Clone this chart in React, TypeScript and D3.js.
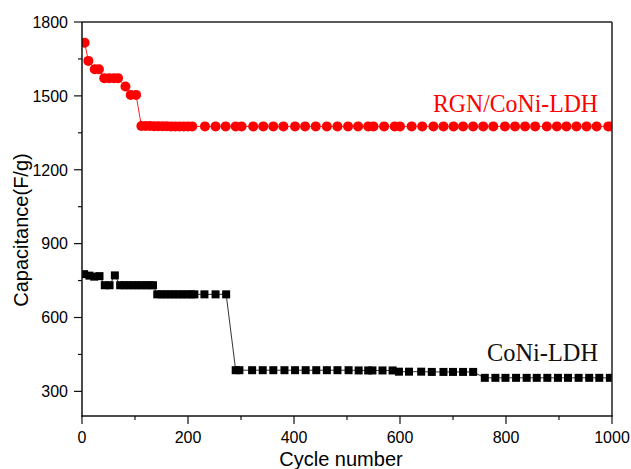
import React from "react";
import * as d3 from "d3";

const redCycles = [5, 12, 24, 32, 42, 51, 60, 68, 82, 92, 102, 112, 120, 128, 136, 144, 152, 160, 168, 176, 184, 192, 200, 208, 232, 252, 271, 290, 301, 323, 342, 361, 380, 402, 421, 441, 462, 482, 502, 521, 540, 550, 570, 590, 600, 622, 642, 663, 682, 701, 719, 738, 757, 776, 798, 817, 836, 855, 877, 896, 914, 933, 952, 971, 993, 1000];
const redValues = [1716, 1642, 1608, 1608, 1572, 1572, 1572, 1572, 1538, 1504, 1504, 1378, 1378, 1378, 1377, 1377, 1377, 1377, 1376, 1376, 1376, 1376, 1376, 1376, 1376, 1376, 1376, 1376, 1376, 1376, 1376, 1376, 1376, 1376, 1376, 1376, 1376, 1376, 1376, 1376, 1376, 1376, 1376, 1376, 1376, 1376, 1376, 1376, 1376, 1376, 1376, 1376, 1376, 1376, 1376, 1376, 1376, 1376, 1376, 1376, 1376, 1376, 1376, 1376, 1376, 1376];

const blackCycles = [4, 14, 23, 33, 43, 52, 62, 72, 80, 88, 96, 104, 112, 120, 128, 134, 142, 150, 158, 166, 174, 182, 190, 198, 206, 212, 231, 252, 272, 290, 297, 321, 341, 361, 382, 402, 422, 442, 462, 482, 503, 522, 540, 548, 567, 586, 598, 617, 640, 660, 682, 700, 719, 738, 760, 780, 799, 819, 839, 858, 878, 898, 917, 937, 957, 976, 996];
const blackValues = [776, 770, 766, 768, 731, 731, 771, 731, 731, 731, 731, 731, 731, 731, 731, 731, 694, 694, 694, 694, 694, 694, 694, 694, 694, 694, 694, 694, 694, 386, 386, 386, 386, 386, 386, 386, 386, 386, 386, 386, 386, 385, 385, 385, 385, 385, 380, 380, 380, 379, 379, 379, 379, 379, 355, 355, 355, 355, 355, 355, 355, 355, 355, 355, 355, 355, 355];

const xTicks = [0, 200, 400, 600, 800, 1000];
const xMinor = [100, 300, 500, 700, 900];
const yTicks = [300, 600, 900, 1200, 1500, 1800];
const yMinor = [450, 750, 1050, 1350, 1650];

const xTitle = "Cycle number";
const yTitle = "Capacitance(F/g)";
const redLabel = "RGN/CoNi-LDH";
const blackLabel = "CoNi-LDH";

export default function App() {
  const W = 631, H = 469;
  const L = 82, R = 612, T = 22, B = 416;
  const x = d3.scaleLinear().domain([0, 1000]).range([L, R]);
  const y = d3.scaleLinear().domain([200, 1800]).range([B, T]);

  const red = redCycles.map((c, i) => [c, redValues[i]] as [number, number]);
  const black = blackCycles.map((c, i) => [c, blackValues[i]] as [number, number]);
  const line = d3.line<[number, number]>().x(d => x(d[0])).y(d => y(d[1]));
  const sans = "'Liberation Sans', Arial, sans-serif";
  const serif = "'Liberation Serif', 'Times New Roman', serif";

  return (
    <svg width={W} height={H} style={{ position: "absolute", left: 0, top: 0, background: "#fff" }}>
      <defs>
        <clipPath id="plot">
          <rect x={L} y={T} width={R - L} height={B - T} />
        </clipPath>
      </defs>
      <rect x={0} y={0} width={W} height={H} fill="#fff" />
      <g clipPath="url(#plot)">
        <path d={line(black) || ""} fill="none" stroke="#333" strokeWidth={1} />
        {black.map((d, i) => (
          <rect key={i} x={x(d[0]) - 4} y={y(d[1]) - 4} width={8} height={8} fill="#000" />
        ))}
        <path d={line(red) || ""} fill="none" stroke="#ff2020" strokeWidth={1} />
        {red.map((d, i) => (
          <circle key={i} cx={x(d[0])} cy={y(d[1])} r={5} fill="#ff0000" />
        ))}
      </g>
      {/* frame */}
      <line x1={L} x2={R} y1={T} y2={T} stroke="#222" strokeWidth={1.5} />
      <line x1={R} x2={R} y1={T} y2={B} stroke="#222" strokeWidth={1.5} />
      <line x1={L} x2={L} y1={T} y2={B + 0.75} stroke="#111" strokeWidth={1.5} />
      <line x1={L - 0.75} x2={R + 0.75} y1={B} y2={B} stroke="#111" strokeWidth={1.5} />
      {/* x ticks */}
      {xTicks.map(t => (
        <g key={"xt" + t}>
          <line x1={x(t)} x2={x(t)} y1={B} y2={B + 8} stroke="#111" strokeWidth={1.2} />
          <text x={x(t)} y={443} textAnchor="middle" fontFamily={sans} fontSize={16} fill="#000">{t}</text>
        </g>
      ))}
      {xMinor.map(t => (
        <line key={"xm" + t} x1={x(t)} x2={x(t)} y1={B} y2={B + 4} stroke="#111" strokeWidth={1.2} />
      ))}
      {/* y ticks */}
      {yTicks.map(t => (
        <g key={"yt" + t}>
          <line x1={L - 8} x2={L} y1={y(t)} y2={y(t)} stroke="#111" strokeWidth={1.2} />
          <text x={68} y={y(t)} dy="0.36em" textAnchor="end" fontFamily={sans} fontSize={16} fill="#000">{t}</text>
        </g>
      ))}
      {yMinor.map(t => (
        <line key={"ym" + t} x1={L - 4} x2={L} y1={y(t)} y2={y(t)} stroke="#111" strokeWidth={1.2} />
      ))}
      {/* titles */}
      <text x={341} y={466} textAnchor="middle" fontFamily={sans} fontSize={20} fill="#000">{xTitle}</text>
      <text transform="translate(28,230) rotate(-90)" textAnchor="middle" fontFamily={sans} fontSize={20} fill="#000">{yTitle}</text>
      {/* annotations */}
      <text x={433} y={112} fontFamily={serif} fontSize={26} fill="#ff0000" textLength={165} lengthAdjust="spacingAndGlyphs">{redLabel}</text>
      <text x={487} y={361} fontFamily={serif} fontSize={26} fill="#111" textLength={111} lengthAdjust="spacingAndGlyphs">{blackLabel}</text>
    </svg>
  );
}
